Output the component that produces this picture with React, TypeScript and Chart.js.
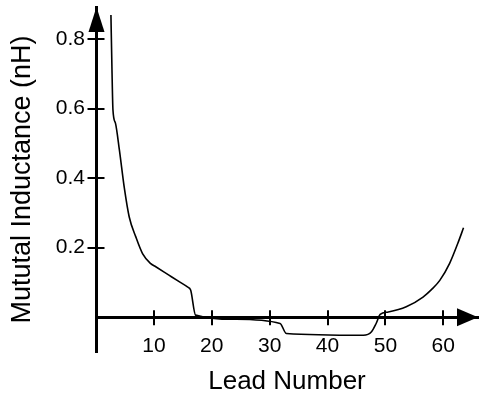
import { useEffect, useRef } from "react";
import { Chart, registerables } from "chart.js";

Chart.register(...registerables);

// Lead number (x) and mutual inductance in nH (y)
const leadNumbers = [
  2.58, 2.75, 2.93, 3.36, 4.04, 4.9, 5.73, 6.88, 8.04, 9.4, 10.33, 12.6, 14.3,
  15.8, 16.35, 17.2, 24.0, 31.8, 32.9, 46.2, 47.6, 48.4, 49.1, 50.5, 53.6,
  56.5, 58.0, 59.4, 61.1, 62.5, 63.5,
];
const mutualInductance = [
  0.869, 0.72, 0.596, 0.558, 0.481, 0.371, 0.289, 0.231, 0.183, 0.155, 0.145,
  0.121, 0.103, 0.087, 0.078, 0.006, -0.006, -0.018, -0.047, -0.052, -0.042,
  -0.018, 0.008, 0.015, 0.03, 0.058, 0.08, 0.106, 0.155, 0.212, 0.257,
];

const xTickValues = [10, 20, 30, 40, 50, 60];
const yTickValues = [0.2, 0.4, 0.6, 0.8];
const xTitle = "Lead Number";
const yTitle = "Mututal Inductance (nH)";

const X_MIN = 0;
const X_MAX = 66;
const Y_MIN = -0.1;
const Y_MAX = 0.892;

const FONT = "'Liberation Sans', Arial, Helvetica, sans-serif";

const axisDecorations = {
  id: "axisDecorations",
  afterDraw(chart: any) {
    const { ctx, chartArea, scales } = chart;
    const xs = scales.x;
    const ys = scales.y;
    const x0 = xs.getPixelForValue(0) + 0.5;
    const y0 = ys.getPixelForValue(0);
    ctx.save();
    ctx.strokeStyle = "#000";
    ctx.fillStyle = "#000";
    ctx.lineWidth = 2;
    // crossing tick marks on the y axis
    for (const v of yTickValues) {
      const py = Math.round(ys.getPixelForValue(v));
      ctx.beginPath();
      ctx.moveTo(x0 - 9, py);
      ctx.lineTo(x0 + 8, py);
      ctx.stroke();
    }
    // crossing tick marks on the x axis
    for (const v of xTickValues) {
      const px = Math.round(xs.getPixelForValue(v));
      ctx.beginPath();
      ctx.moveTo(px, y0 - 7);
      ctx.lineTo(px, y0 + 8);
      ctx.stroke();
    }
    // arrow head at top of y axis
    ctx.beginPath();
    ctx.moveTo(x0, chartArea.top);
    ctx.lineTo(x0 - 8, chartArea.top + 25);
    ctx.lineTo(x0 + 8, chartArea.top + 25);
    ctx.closePath();
    ctx.fill();
    // arrow head at right of x axis
    ctx.beginPath();
    ctx.moveTo(chartArea.right, y0);
    ctx.lineTo(chartArea.right - 21, y0 - 9);
    ctx.lineTo(chartArea.right - 21, y0 + 9);
    ctx.closePath();
    ctx.fill();
    ctx.restore();
  },
};

export default function App() {
  const canvasRef = useRef<HTMLCanvasElement | null>(null);

  useEffect(() => {
    const canvas = canvasRef.current;
    if (!canvas) return;
    const points = leadNumbers.map((x, i) => ({ x, y: mutualInductance[i] }));
    const chart = new Chart(canvas, {
      type: "line",
      data: {
        datasets: [
          {
            label: "Mutual Inductance",
            data: points,
            borderColor: "#000",
            borderWidth: 1.6,
            pointRadius: 0,
            cubicInterpolationMode: "monotone",
            fill: false,
            clip: false as any,
          },
        ],
      },
      options: {
        responsive: false,
        animation: false,
        devicePixelRatio: 1,
        layout: { padding: { left: 0, top: 7, right: 2, bottom: 47 } },
        plugins: {
          legend: { display: false },
          tooltip: { enabled: false },
          title: { display: false },
        },
        scales: {
          x: {
            type: "linear",
            position: { y: 0 } as any,
            min: X_MIN,
            max: X_MAX,
            afterBuildTicks: (scale: any) => {
              scale.ticks = xTickValues.map((value) => ({ value }));
            },
            afterFit: (scale: any) => {
              scale.paddingLeft = 0;
              scale.paddingRight = 0;
              scale.paddingTop = 0;
              scale.paddingBottom = 0;
            },
            grid: {
              display: true,
              drawOnChartArea: false,
              drawTicks: true,
              tickLength: 16,
              tickColor: "rgba(0,0,0,0)",
              color: "rgba(0,0,0,0)",
            },
            border: { display: true, color: "#000", width: 3 },
            ticks: {
              color: "#000",
              padding: 0,
              maxRotation: 0,
              autoSkip: false,
              font: { family: FONT, size: 21 },
              callback: (v: any) => String(v),
            },
            title: {
              display: true,
              text: xTitle,
              color: "#000",
              font: { family: FONT, size: 26 },
              padding: { top: 8, bottom: 0 },
            },
          },
          y: {
            type: "linear",
            position: "left",
            min: Y_MIN,
            max: Y_MAX,
            afterBuildTicks: (scale: any) => {
              scale.ticks = yTickValues.map((value) => ({ value }));
            },
            afterFit: (scale: any) => {
              scale.width = 96;
              scale.paddingLeft = 0;
              scale.paddingRight = 0;
              scale.paddingTop = 0;
              scale.paddingBottom = 0;
            },
            grid: { display: false, drawTicks: false, drawOnChartArea: false },
            border: { display: true, color: "#000", width: 3 },
            ticks: {
              color: "#000",
              padding: 11,
              font: { family: FONT, size: 21 },
              callback: (v: any) => Number(v).toFixed(1),
            },
            title: {
              display: true,
              text: yTitle,
              color: "#000",
              font: { family: FONT, size: 27 },
              padding: { top: 6, bottom: 0 },
            },
          },
        },
      },
      plugins: [axisDecorations],
    });
    return () => chart.destroy();
  }, []);

  return (
    <div
      style={{
        position: "fixed",
        left: 0,
        top: 0,
        width: 480,
        height: 399,
        background: "#fff",
      }}
    >
      <canvas
        ref={canvasRef}
        width={480}
        height={399}
        style={{ display: "block", width: 480, height: 399 }}
      />
    </div>
  );
}
